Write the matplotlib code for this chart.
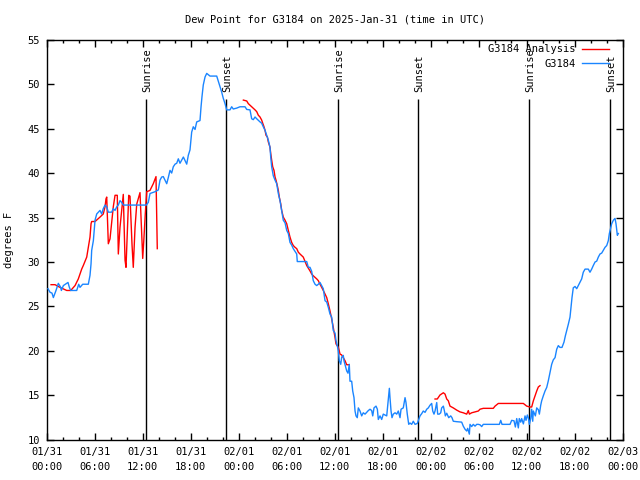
#!/usr/bin/env python3

import matplotlib

matplotlib.use("Agg")
import matplotlib.pyplot as plt
from matplotlib.ticker import MultipleLocator

# hours since 2025-01-31 00:00 UTC
station_hours = [
    0.16, 0.41, 0.66, 0.83, 1.16, 1.45, 1.75, 1.83, 2.08, 2.33, 2.66, 2.83,
    3.0, 3.75, 4.0, 4.16, 4.5, 5.2, 5.41, 5.54, 5.62, 5.83, 6.04, 6.25, 6.45,
    6.66, 6.87, 7.07, 7.29, 7.5, 7.7, 8.12, 8.32, 8.54, 8.75, 8.95, 9.16,
    9.37, 9.57, 9.91, 12.45, 12.7, 12.91, 13.54, 13.95, 14.16, 14.37, 14.57,
    15.0, 15.2, 15.41, 15.62, 15.82, 16.04, 16.25, 16.45, 16.66, 17.08,
    17.29, 17.5, 17.7, 17.91, 18.12, 18.32, 18.54, 18.75, 19.16, 19.29,
    19.41, 19.57, 19.79, 20.0, 20.41, 21.25, 21.66, 21.87, 22.07, 22.29,
    22.5, 22.91, 23.12, 23.32, 23.75, 24.16, 24.79, 25.0, 25.41, 25.62,
    25.82, 26.04, 26.25, 26.66, 26.87, 27.07, 27.29, 27.5, 27.7, 27.91,
    28.0, 28.12, 28.32, 28.54, 28.75, 28.95, 29.16, 29.37, 29.57, 29.79,
    30.0, 30.2, 30.41, 30.62, 30.82, 31.04, 31.25, 31.32, 32.5, 32.7, 32.91,
    33.12, 33.32, 33.54, 33.75, 33.95, 34.16, 34.37, 34.57, 34.79, 35.0,
    35.2, 35.41, 35.62, 35.82, 36.04, 36.16, 36.32, 36.45, 36.57, 36.75,
    36.87, 37.07, 37.16, 37.5, 37.66, 37.82, 37.91, 38.12, 38.25, 38.41,
    38.54, 38.66, 38.82, 38.95, 39.16, 39.37, 39.57, 39.79, 40.2, 40.41,
    40.62, 40.75, 40.91, 41.16, 41.33, 41.45, 41.66, 41.87, 42.07, 42.5,
    42.62, 42.75, 42.83, 42.91, 43.04, 43.16, 43.32, 43.54, 43.75, 43.95,
    44.16, 44.29, 44.57, 44.79, 44.91, 45.07, 45.25, 45.41, 45.62, 45.82,
    46.04, 46.32, 46.5, 46.66, 46.87, 47.07, 47.29, 47.5, 47.7, 47.91,
    48.12, 48.25, 48.41, 48.54, 48.75, 48.87, 49.07, 49.25, 49.37, 49.58,
    49.75, 49.83, 50.0, 50.25, 50.5, 50.66, 50.82, 51.25, 51.87, 52.07,
    52.29, 52.5, 52.62, 52.83, 52.91, 53.12, 53.32, 53.54, 53.75, 53.95,
    54.16, 54.37, 54.57, 56.58, 56.75, 56.91, 57.91, 58.12, 58.41, 58.58,
    58.75, 58.95, 59.07, 59.25, 59.37, 59.58, 59.79, 59.91, 60.08, 60.2,
    60.33, 60.5, 60.62, 60.75, 60.83, 61.08, 61.25, 61.45, 61.58, 61.75,
    61.87, 62.07, 62.29, 62.5, 62.7, 62.91, 63.12, 63.32, 63.54, 63.75,
    63.95, 64.16, 64.41, 64.66, 64.83, 65.0, 65.2, 65.41, 65.54, 65.66,
    65.82, 66.04, 66.25, 66.45, 66.66, 66.87, 67.07, 67.29, 67.7, 67.91,
    68.12, 68.32, 68.54, 68.75, 68.95, 69.16, 69.37, 69.57, 69.79, 70.0,
    70.2, 70.33, 70.62, 70.83, 71.04, 71.16, 71.33, 71.45,
]
station_dewpoint = [
    27.0, 26.6, 26.5, 26.0, 26.8, 27.6, 27.15, 26.8, 27.35, 27.5, 27.7,
    27.15, 26.8, 26.8, 27.5, 27.15, 27.5, 27.5, 28.5, 29.8, 31.3, 32.4, 34.7,
    35.4, 35.6, 35.8, 35.4, 36.0, 36.4, 36.2, 35.6, 35.6, 36.0, 35.8, 36.2,
    36.4, 36.9, 36.7, 36.4, 36.4, 36.4, 36.7, 37.7, 37.9, 38.1, 39.2, 39.55,
    39.6, 38.8, 39.5, 40.3, 40.0, 40.7, 41.0, 41.1, 41.6, 41.1, 41.8, 41.4,
    41.0, 42.0, 42.6, 44.6, 45.2, 44.9, 45.75, 45.9, 47.45, 48.6, 49.9,
    50.8, 51.2, 50.9, 50.9, 49.7, 49.1, 48.4, 47.8, 47.1, 47.1, 47.45, 47.2,
    47.3, 47.45, 47.45, 47.15, 47.1, 46.1, 46.0, 46.3, 46.1, 45.75, 45.6,
    45.2, 44.8, 44.25, 43.7, 42.9, 41.8, 40.7, 39.7, 39.2, 38.8, 37.7, 36.9,
    35.8, 34.7, 34.4, 33.55, 33.2, 32.2, 31.9, 31.5, 31.2, 30.9, 30.05,
    30.05, 29.4, 29.4, 28.95, 27.9, 27.5, 27.35, 27.5, 27.7, 27.35, 27.0,
    25.65, 25.5, 24.9, 24.15, 23.8, 22.3, 22.0, 21.15, 20.6, 20.0, 18.9,
    18.5, 19.3, 19.5, 18.9, 17.75, 17.5, 18.5, 16.6, 16.6, 15.5, 14.75,
    13.25, 12.7, 12.5, 13.6, 13.25, 12.7, 13.05, 12.9, 13.3, 13.45, 13.3,
    12.7, 13.6, 13.8, 13.45, 12.3, 12.7, 12.3, 12.9, 12.7, 13.8, 15.1, 15.8,
    14.75, 13.25, 12.5, 12.9, 13.05, 12.9, 13.25, 12.5, 13.45, 13.6, 14.75,
    14.2, 12.9, 11.75, 11.9, 11.75, 12.1, 11.75, 11.85, 12.3, 12.7, 12.95,
    13.25, 13.1, 13.45, 13.6, 13.9, 14.1, 13.25, 12.9, 13.25, 14.2, 12.9,
    12.9, 13.05, 13.6, 13.8, 13.1, 12.7, 13.0, 12.5, 12.7, 12.5, 12.1,
    12.05, 12.0, 11.55, 11.2, 11.0, 11.3, 10.65, 11.75, 11.5, 11.75, 11.55,
    11.75, 11.75, 11.7, 11.5, 11.75, 11.75, 12.2, 11.75, 11.75, 12.2, 12.15,
    11.45, 12.4, 11.35, 12.4, 12.0, 12.4, 11.8, 12.7, 12.2, 12.8, 12.5,
    11.75, 12.4, 13.45, 12.1, 13.25, 12.7, 13.6, 13.4, 12.9, 13.9, 14.4,
    14.95, 15.5, 15.9, 16.65, 17.55, 18.5, 19.0, 19.25, 20.2, 20.6, 20.4,
    20.4, 21.0, 21.7, 22.3, 23.0, 23.8, 24.9, 26.0, 27.1, 27.25, 27.0,
    27.35, 27.7, 28.1, 28.85, 29.2, 29.2, 28.85, 29.2, 29.6, 30.0, 30.1,
    30.55, 30.9, 31.0, 31.3, 31.65, 31.85, 32.4, 33.2, 34.3, 34.7, 34.9,
    34.3, 33.0, 33.2,
]

# analysis comes in three separate pieces
analysis_hours_1 = [
    0.54, 1.04, 1.66, 2.5, 3.0, 3.54, 3.95, 4.37, 4.57, 5.0, 5.2, 5.41, 5.54,
    5.62, 6.04, 6.66, 7.07, 7.29, 7.41, 7.5, 7.7, 7.91, 8.32, 8.54, 8.82,
    8.95, 9.16, 9.57, 9.79, 9.91, 10.25, 10.41, 10.66, 10.82, 11.04, 11.25,
    11.66, 12.0, 12.16, 12.32, 12.5, 12.91, 13.32, 13.66, 13.82,
]
analysis_dewpoint_1 = [
    27.45, 27.45, 27.15, 26.8, 26.8, 27.35, 28.1, 29.2, 29.6, 30.55, 31.65,
    32.8, 34.3, 34.55, 34.55, 35.05, 35.4, 36.2, 37.1, 37.3, 32.05, 32.6,
    36.2, 37.5, 37.5, 30.9, 33.9, 37.6, 30.2, 29.4, 37.5, 37.4, 32.0, 29.4,
    33.9, 36.5, 37.8, 30.4, 32.8, 35.4, 37.9, 38.05, 38.8, 39.6, 31.5,
]
analysis_hours_2 = [
    24.58, 25.0, 25.2, 25.62, 26.04, 26.25, 26.45, 26.66, 26.87, 27.0, 27.16,
    27.29, 27.41, 27.58, 27.7, 27.91, 28.0, 28.12, 28.25, 28.41, 28.54,
    28.66, 28.82, 28.95, 29.07, 29.25, 29.37, 29.57, 29.79, 30.0, 30.2,
    30.41, 30.62, 30.82, 31.04, 31.25, 31.45, 31.66, 32.07, 32.5, 32.91,
    33.12, 33.32, 33.75, 33.95, 34.16, 34.37, 34.57, 34.79, 35.0, 35.2,
    35.41, 35.62, 35.82, 36.04, 36.16, 36.45, 36.57, 36.66, 36.87, 37.07,
    37.29, 37.5, 37.82,
]
analysis_dewpoint_2 = [
    48.2, 48.1, 47.8, 47.45, 47.1, 46.9, 46.5, 46.3, 45.95, 45.6, 45.2, 44.8,
    44.25, 44.05, 43.5, 42.9, 42.2, 41.45, 40.7, 40.3, 39.55, 39.2, 38.6,
    38.05, 37.3, 36.55, 35.8, 35.05, 34.7, 34.3, 33.55, 32.8, 32.2, 31.85,
    31.65, 31.5, 31.1, 30.9, 30.55, 29.6, 29.0, 28.65, 28.45, 28.1, 27.9,
    27.5, 27.15, 26.8, 26.4, 26.0, 25.3, 24.5, 23.6, 22.65, 21.5, 20.8,
    20.4, 20.0, 19.65, 19.55, 19.25, 18.9, 18.45, 18.45,
]
analysis_hours_3 = [
    48.54, 48.82, 49.16, 49.58, 49.79, 50.0, 50.2, 50.41, 50.82, 51.25,
    51.66, 52.07, 52.5, 52.7, 52.83, 53.12, 53.54, 53.95, 54.16, 54.57,
    55.82, 56.04, 56.45, 59.58, 60.0, 60.41, 60.62, 60.83, 61.04, 61.25,
    61.45, 61.66,
]
analysis_dewpoint_3 = [
    14.6, 14.6, 15.05, 15.3, 15.15, 14.6, 14.4, 13.8, 13.6, 13.35, 13.15,
    13.05, 12.9, 13.3, 12.9, 13.05, 13.15, 13.25, 13.45, 13.55, 13.55, 13.8,
    14.1, 14.1, 13.8, 13.7, 13.7, 14.4, 14.95, 15.5, 15.95, 16.1,
]

sunrise_hours = [12.45, 36.45, 60.33]
sunset_hours = [22.45, 46.45, 70.45]

tick_hours = [0, 6, 12, 18, 24, 30, 36, 42, 48, 54, 60, 66, 72]
tick_labels = [
    "01/31\n00:00", "01/31\n06:00", "01/31\n12:00", "01/31\n18:00",
    "02/01\n00:00", "02/01\n06:00", "02/01\n12:00", "02/01\n18:00",
    "02/02\n00:00", "02/02\n06:00", "02/02\n12:00", "02/02\n18:00",
    "02/03\n00:00",
]

FONT = "DejaVu Sans Mono"
FONT_SIZE = 7.5
RED = "#ff0000"
BLUE = "#1a85ff"


def DrawSunMarks(ax, hours: list[float], label: str) -> None:
    ax.vlines(hours, 10, 48.3, color="black", linewidth=1.0, zorder=1)
    for hour in hours:
        ax.text(
            hour + 0.1,
            49.1,
            label,
            rotation=90,
            ha="center",
            va="bottom",
            fontsize=FONT_SIZE,
        )


def Main() -> None:
    plt.rcParams["font.family"] = [FONT, "DejaVu Sans"]
    plt.rcParams["font.size"] = FONT_SIZE

    fig = plt.figure(figsize=(6.4, 4.8), dpi=100)
    ax = fig.add_axes([0.073, 0.0835, 0.9, 0.834])

    analysis_pieces = [
        (analysis_hours_1, analysis_dewpoint_1),
        (analysis_hours_2, analysis_dewpoint_2),
        (analysis_hours_3, analysis_dewpoint_3),
    ]
    for index, (hours, values) in enumerate(analysis_pieces):
        ax.plot(
            hours,
            values,
            color=RED,
            linewidth=1.0,
            label="G3184 Analysis" if index == 0 else None,
            zorder=2,
        )
    ax.plot(
        station_hours,
        station_dewpoint,
        color=BLUE,
        linewidth=1.0,
        label="G3184",
        zorder=3,
    )

    DrawSunMarks(ax, sunrise_hours, "Sunrise")
    DrawSunMarks(ax, sunset_hours, "Sunset")

    ax.set_xlim(0, 72)
    ax.set_ylim(10, 55)
    ax.set_xticks(tick_hours)
    ax.set_xticklabels(tick_labels, linespacing=1.6)
    ax.xaxis.set_minor_locator(MultipleLocator(2))
    ax.set_yticks(range(10, 56, 5))
    ax.tick_params(
        which="both", direction="in", top=True, right=True, width=1.0,
        labelsize=FONT_SIZE,
    )
    ax.tick_params(which="major", length=5, pad=5)
    ax.tick_params(which="minor", length=2.5)
    for spine in ax.spines.values():
        spine.set_linewidth(1.0)

    ax.set_ylabel("degrees F", fontsize=FONT_SIZE)
    ax.yaxis.set_label_coords(-0.056, 0.5)
    ax.set_title(
        "Dew Point for G3184 on 2025-Jan-31 (time in UTC)",
        fontsize=FONT_SIZE,
        pad=12,
    )

    ax.legend(
        loc="upper right",
        bbox_to_anchor=(0.976, 0.988),
        frameon=False,
        markerfirst=False,
        handlelength=2.6,
        handletextpad=0.6,
        borderpad=0,
        borderaxespad=0,
        labelspacing=0.45,
        fontsize=FONT_SIZE,
    )

    fig.savefig("out.png", dpi=100)
    plt.close(fig)


if __name__ == "__main__":
    Main()
